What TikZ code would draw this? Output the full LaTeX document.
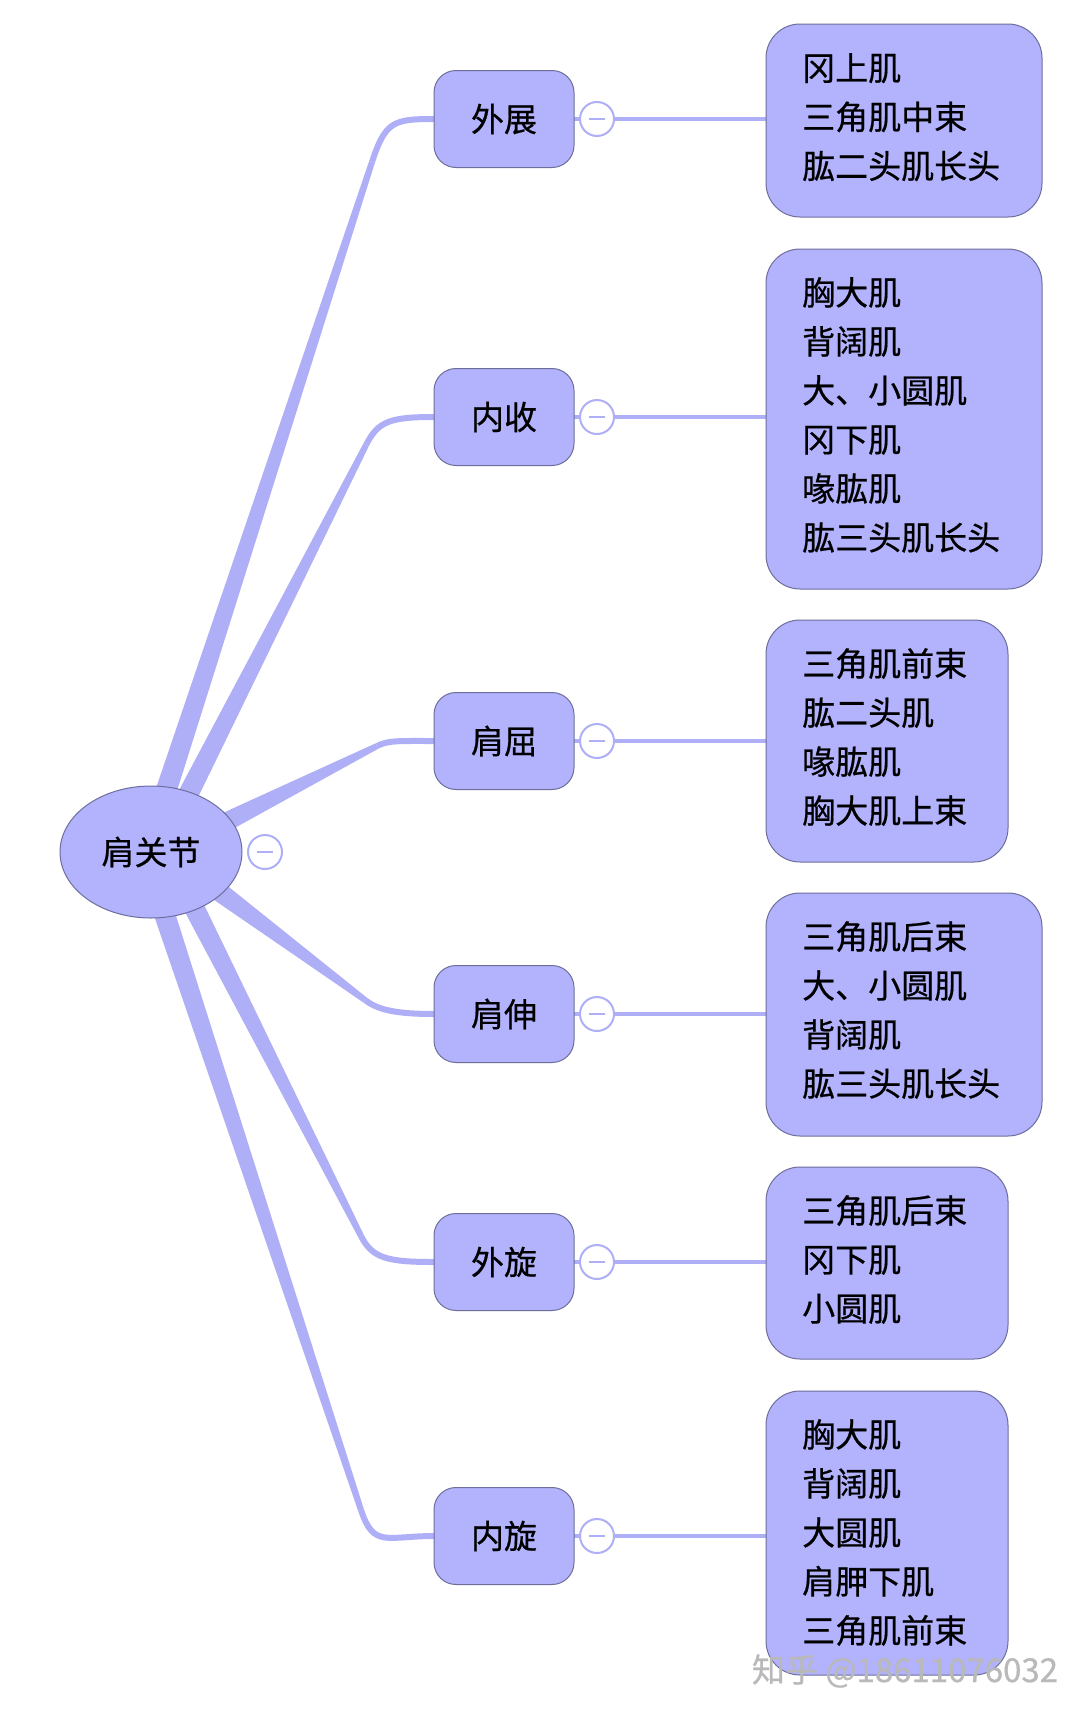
\documentclass[tikz,border=0pt]{standalone}
\usepackage{fontspec}
\setmainfont{Noto Sans CJK SC}[FakeBold=0.6]
\usetikzlibrary{calc,shapes.geometric}
\definecolor{nodefill}{HTML}{B2B2FD}
\definecolor{nodeedge}{HTML}{6E6E9C}
\definecolor{linec}{HTML}{AFAFF7}
\tikzset{
 mid/.style={draw=nodeedge,fill=nodefill,rounded corners=22pt,minimum width=140pt,minimum height=97pt,font=\fontsize{33}{36}\selectfont,line width=1pt},
 leaf/.style={draw=nodeedge,fill=nodefill,rounded corners=34pt,line width=1pt},
 colbtn/.style={circle,draw=linec,fill=white,minimum size=34pt,inner sep=0pt,line width=2pt},
 conn/.style={draw=linec,line width=4pt},
}
\newcommand{\leaftext}[3]{\node[anchor=north west,align=left,font=\fontsize{33}{49}\selectfont,inner sep=0pt] (#1) at (802,#2) {#3};}
\newcommand{\branchm}[6]{% name Sx Sy Kx Ky Ey
 \coordinate (#1S) at (#2,#3); \coordinate (#1K) at (#4,#5);
 \fill[linec] ($(#1S)!11pt!90:(#1K)$) -- ($(#1K)!3pt!-90:(#1S)$) -- ($(#1K)!3pt!90:(#1S)$) -- ($(#1S)!11pt!-90:(#1K)$) -- cycle;
 \draw[linec,line width=6pt] (#1K) .. controls ($(#1S)!1.06!(#1K)$) and ({#4+(434-#4)*0.35},#6) .. (434,#6);}
\begin{document}
\begin{tikzpicture}[x=1pt,y=-1pt]
\useasboundingbox (0,0) rectangle (1080,1716);
\fill[white] (0,0) rectangle (1080,1716);
% branches
\branchm{b1}{150}{840}{372}{162}{119}
\branchm{b2}{165}{840}{366}{445}{417}
\branchm{b3}{190}{840}{377}{746}{741}
\branchm{b4}{190}{870}{365}{1000}{1014}
\branchm{b5}{175}{870}{361}{1236}{1262}
\branchm{b6}{150}{870}{361}{1510}{1536}
% connectors mid->leaf
\foreach \y in {119,417,741,1014,1262,1536} \draw[conn] (574,\y) -- (767,\y);
% leaf boxes
\draw[leaf] (766,24) rectangle (1042,217);
\draw[leaf] (766,249) rectangle (1042,589);
\draw[leaf] (766,620) rectangle (1008,862);
\draw[leaf] (766,893) rectangle (1042,1136);
\draw[leaf] (766,1167) rectangle (1008,1359);
\draw[leaf] (766,1391) rectangle (1008,1675);
\leaftext{l1}{53}{冈上肌\\三角肌中束\\肱二头肌长头}
\leaftext{l2}{277}{胸大肌\\背阔肌\\大、小圆肌\\冈下肌\\喙肱肌\\肱三头肌长头}
\leaftext{l3}{648}{三角肌前束\\肱二头肌\\喙肱肌\\胸大肌上束}
\leaftext{l4}{921}{三角肌后束\\大、小圆肌\\背阔肌\\肱三头肌长头}
\leaftext{l5}{1195}{三角肌后束\\冈下肌\\小圆肌}
\leaftext{l6}{1419}{胸大肌\\背阔肌\\大圆肌\\肩胛下肌\\三角肌前束}
% mid nodes
\node[mid] (m1) at (504,119) {外展};
\node[mid] (m2) at (504,417) {内收};
\node[mid] (m3) at (504,741) {肩屈};
\node[mid] (m4) at (504,1014) {肩伸};
\node[mid] (m5) at (504,1262) {外旋};
\node[mid] (m6) at (504,1536) {内旋};
\foreach \y [count=\i] in {119,417,741,1014,1262,1536} {
 \node[colbtn] (c\i) at (597,\y) {};
 \draw[linec,line width=2pt] (589,\y) -- (605,\y);
}
% root
\node[ellipse,draw=nodeedge,fill=nodefill,line width=1pt,minimum width=182pt,minimum height=132pt,font=\fontsize{33}{36}\selectfont] (root) at (151,852) {肩关节};
\node[colbtn] (cr) at (265,852) {};
\draw[linec,line width=2pt] (257,852) -- (273,852);
% watermark
\node[font=\fontsize{33}{36}\selectfont] (wm) at (905,1671) {\textcolor{gray!55}{知乎 @18611076032}};
\end{tikzpicture}
\end{document}
